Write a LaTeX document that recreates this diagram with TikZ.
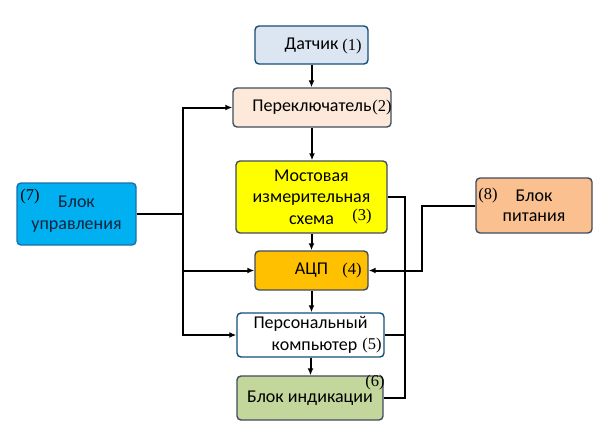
\documentclass[tikz,border=0pt]{standalone}
\usepackage{fontspec}
\setmainfont{Carlito}
\newfontfamily\numfont{Liberation Serif}
\usetikzlibrary{arrows.meta}
\definecolor{bordc}{HTML}{404C5E}
\definecolor{c1}{HTML}{DCE6F2}
\definecolor{c2}{HTML}{FDE9D9}
\definecolor{c3}{HTML}{FFFF00}
\definecolor{c4}{HTML}{FFC000}
\definecolor{c6}{HTML}{C3D69B}
\definecolor{c7}{HTML}{00B0F0}
\definecolor{c7b}{HTML}{1B6FA8}
\definecolor{c8}{HTML}{FAC090}
\definecolor{navy}{HTML}{10243E}
\begin{document}
\begin{tikzpicture}[x=1pt,y=-1pt,
  box/.style={draw=bordc, line width=1.4pt, rounded corners=4pt, inner sep=0pt,
    font=\fontsize{18}{21.5}\selectfont, align=center},
  conn/.style={line width=2pt, -{Latex[length=7pt,width=6pt]}},
  wire/.style={line width=2pt},
  num/.style={font=\numfont\fontsize{16.5}{18}\selectfont, inner sep=0pt}]
\useasboundingbox (0,0) rectangle (610,436);

\node[box, fill=c1, draw=c7b!70!black, minimum width=113pt, minimum height=38pt] (b1) at (311.5,45) {Датчик};
\node[box, fill=c2, minimum width=158pt, minimum height=39pt] (b2) at (312,107.5) {Переключатель};
\node[box, fill=c3, minimum width=151pt, minimum height=72pt] (b3) at (311.5,197) {Мостовая\\измерительная\\схема};
\node[box, fill=c4, minimum width=113pt, minimum height=39pt] (b4) at (311.5,270.5) {АЦП};
\node[box, fill=white, draw=c7b!70!black, minimum width=147pt, minimum height=44pt] (b5) at (310.5,335) {Персональный\\\hspace*{8pt}компьютер};
\node[box, fill=c6, minimum width=146pt, minimum height=44pt] (b6) at (310,398) {Блок индикации};
\node[box, fill=c7, draw=c7b, text=navy, minimum width=119pt, minimum height=62pt] (b7) at (76.5,214) {Блок\\управления};
\node[box, fill=c8, minimum width=116pt, minimum height=55pt, font=\fontsize{18}{20}\selectfont] (b8) at (534,205.5) {Блок\\питания};

\node[num] (n1) at (352,47) {(1)};
\node[num] (n2) at (382,108) {(2)};
\node[num] (n3) at (362,217) {(3)};
\node[num] (n4) at (352,271) {(4)};
\node[num] (n5) at (372,346) {(5)};
\node[num] (n6) at (375,383) {(6)};
\node[num] (n7) at (30,197) {(7)};
\node[num] (n8) at (488,196) {(8)};

\draw[conn] (b1.south) -- (b1.south |- b2.north);
\draw[conn] (b2.south) -- (b2.south |- b3.north);
\draw[conn] (b3.south) -- (b3.south |- b4.north);
\draw[conn] (b4.south) -- (b4.south |- b5.north);
\draw[conn] (b5.south) -- (b5.south |- b6.north);

\coordinate (jL) at (183,214);
\draw[wire] (b7.east) -- (jL);
\draw[conn] (jL) |- (b2.west);
\draw[conn] (jL) |- (b4.west);
\draw[conn] (jL) |- (b5.west);

\coordinate (jR) at (405,197);
\draw[wire] (b3.east) -- (jR) -- (jR |- b6.east) -- (b6.east);
\draw[wire] (b5.east) -- (b5.east -| jR);

\coordinate (jP) at (422,205.5);
\draw[conn] (b8.west) -- (jP) |- (b4.east);
\end{tikzpicture}
\end{document}
